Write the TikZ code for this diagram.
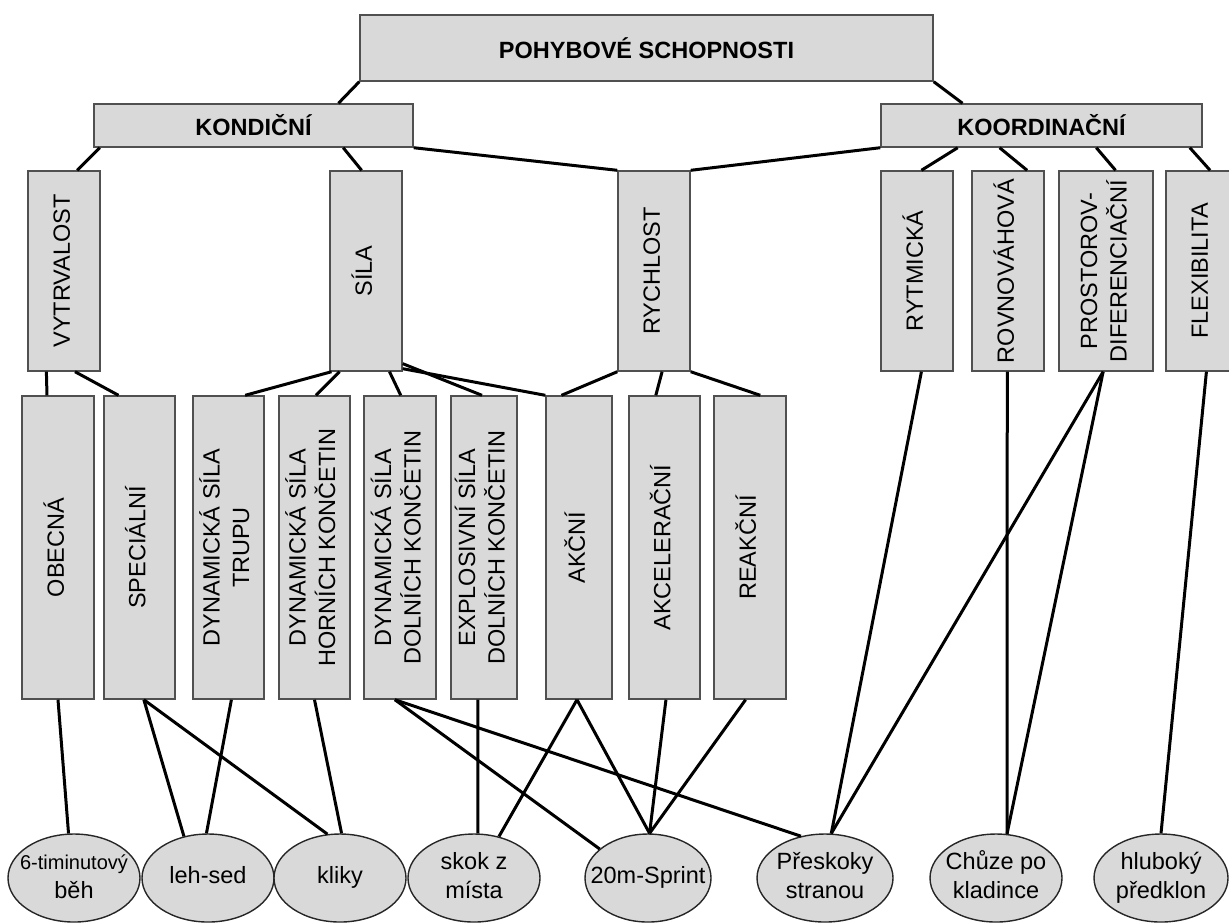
\documentclass[tikz,border=0pt]{standalone}
\usepackage{fontspec}
\setmainfont{Liberation Sans}
\usepackage{tikz}
\usetikzlibrary{calc,shapes.geometric}
\definecolor{BoxGray}{RGB}{217,217,217}
\definecolor{RimGray}{RGB}{80,80,80}
\newcommand{\diagfont}{\fontsize{11.75}{14.8}\selectfont}
\newcommand{\vtext}[1]{\rotatebox{90}{\begin{tabular}{@{}c@{}}#1\end{tabular}}}
\newcommand{\ctext}[1]{\makebox[0pt]{\begin{tabular}{@{}c@{}}#1\end{tabular}}}
\tikzset{
	hbox/.style={draw=RimGray,fill=BoxGray,line width=0.7pt,inner sep=0pt,font=\diagfont\bfseries},
	vbox/.style={draw=RimGray,fill=BoxGray,line width=0.7pt,inner sep=0pt,minimum width=36pt,font=\diagfont},
	midbox/.style={vbox,minimum height=100pt},
	lowbox/.style={vbox,minimum height=151.5pt},
	test/.style={ellipse,draw=black!85,fill=BoxGray,line width=0.7pt,inner sep=0pt,
		minimum width=66pt,minimum height=44pt,font=\diagfont},
	link/.style={draw=black,line width=1.5pt},
}

\begin{document}
\begin{tikzpicture}[x=0.5pt,y=-0.5pt]
	\clip (0,0) rectangle (1229,923);
	% upper levels
	\node[hbox,minimum width=286.5pt,minimum height=33pt] (pohyb) at (646.5,48) {POHYBOVÉ SCHOPNOSTI};
	\node[hbox,minimum width=159.5pt,minimum height=21.5pt] (kond) at (253.5,125.5) {KONDIČNÍ};
	\node[hbox,minimum width=160.5pt,minimum height=21.5pt] (koord) at (1041.5,125.5) {KOORDINAČNÍ};
	\node[midbox] (vytrv) at (64,271) {\vtext{VYTRVALOST}};
	\node[midbox] (sila) at (366,271) {\vtext{SÍLA}};
	\node[midbox] (rychl) at (654,271) {\vtext{RYCHLOST}};
	\node[midbox] (rytm) at (917,271) {\vtext{RYTMICKÁ}};
	\node[midbox] (rovn) at (1008,271) {\vtext{ROVNOVÁHOVÁ}};
	\node[midbox,minimum width=47pt] (prost) at (1106,271) {\vtext{PROSTOROV-\\DIFERENCIAČNÍ}};
	\node[midbox] (flex) at (1202,271) {\vtext{FLEXIBILITA}};
	% lower boxes
	\node[lowbox] (obec) at (58,547.5) {\vtext{OBECNÁ}};
	\node[lowbox,minimum width=35.5pt] (spec) at (139.5,547.5) {\vtext{SPECIÁLNÍ}};
	\node[lowbox,minimum width=35.5pt] (trup) at (228.5,547.5) {\vtext{DYNAMICKÁ SÍLA\\TRUPU}};
	\node[lowbox,minimum width=35.5pt] (horn) at (314.5,547.5) {\vtext{DYNAMICKÁ SÍLA\\HORNÍCH KONČETIN}};
	\node[lowbox] (doln) at (400,547.5) {\vtext{DYNAMICKÁ SÍLA\\DOLNÍCH KONČETIN}};
	\node[lowbox,minimum width=33pt] (expl) at (484,547.5) {\vtext{EXPLOSIVNÍ SÍLA\\DOLNÍCH KONČETIN}};
	\node[lowbox,minimum width=33pt] (akc) at (579,547.5) {\vtext{AKČNÍ}};
	\node[lowbox,minimum width=35.5pt] (akcel) at (664.5,547.5) {\vtext{AKCELERAČNÍ}};
	\node[lowbox] (reakc) at (750,547.5) {\vtext{REAKČNÍ}};
	% tests
	\node[test] (e6) at (74,878) {\ctext{\fontsize{10}{11.5}\selectfont 6-timinutový\\běh}};
	\node[test] (lehsed) at (208,878) {\ctext{leh-sed}};
	\node[test] (kliky) at (340,878) {\ctext{kliky}};
	\node[test] (skok) at (474,878) {\ctext{skok z\\místa}};
	\node[test,minimum width=63pt] (sprint) at (648,878) {\ctext{20m-Sprint}};
	\node[test,minimum width=68pt] (presk) at (825,878) {\ctext{Přeskoky\\stranou}};
	\node[test] (chuze) at (996,878) {\ctext{Chůze po\\kladince}};
	\node[test,minimum width=67pt] (predkl) at (1161,878) {\ctext{hluboký\\předklon}};

	% links between levels
	\draw[link] (pohyb.south west) -- ($(kond.north west)!.765!(kond.north east)$);
	\draw[link] (pohyb.south east) -- ($(koord.north west)!.255!(koord.north east)$);
	\draw[link] ($(kond.south west)!.02!(kond.south east)$) -- ($(vytrv.north west)!.68!(vytrv.north east)$);
	\draw[link] ($(kond.south west)!.78!(kond.south east)$) -- ($(sila.north west)!.44!(sila.north east)$);
	\draw[link] (kond.south east) -- (rychl.north west);
	\draw[link] (koord.south west) -- (rychl.north east);
	\draw[link] ($(koord.south west)!.24!(koord.south east)$) -- ($(rytm.north west)!.56!(rytm.north east)$);
	\draw[link] ($(koord.south west)!.37!(koord.south east)$) -- ($(rovn.north west)!.76!(rovn.north east)$);
	\draw[link] ($(koord.south west)!.67!(koord.south east)$) -- ($(prost.north west)!.6!(prost.north east)$);
	\draw[link] ($(koord.south west)!.96!(koord.south east)$) -- ($(flex.north west)!.61!(flex.north east)$);
	\draw[link] ($(vytrv.south west)!.26!(vytrv.south east)$) -- ($(obec.north west)!.35!(obec.north east)$);
	\draw[link] ($(vytrv.south west)!.65!(vytrv.south east)$) -- ($(spec.north west)!.21!(spec.north east)$);
	\draw[link] ($(sila.south west)!.03!(sila.south east)$) -- ($(trup.north west)!.73!(trup.north east)$);
	\draw[link] ($(sila.south west)!.14!(sila.south east)$) -- ($(horn.north west)!.52!(horn.north east)$);
	\draw[link] ($(sila.south west)!.82!(sila.south east)$) -- ($(doln.north west)!.51!(doln.north east)$);
	\draw[link] ($(sila.south east)!.04!(sila.north east)$) -- ($(expl.north west)!.47!(expl.north east)$);
	\draw[link] ($(sila.south east)!.015!(sila.north east)$) -- (akc.north west);
	\draw[link] (rychl.south west) -- ($(akc.north west)!.24!(akc.north east)$);
	\draw[link] ($(rychl.south west)!.61!(rychl.south east)$) -- ($(akcel.north west)!.38!(akcel.north east)$);
	\draw[link] (rychl.south east) -- ($(reakc.north west)!.64!(reakc.north east)$);

	% links to the tests
	\draw[link] (obec.south) -- (e6.97);
	\draw[link] ($(spec.south west)!.56!(spec.south east)$) -- (lehsed.120);
	\draw[link] ($(spec.south west)!.56!(spec.south east)$) -- (kliky.106);
	\draw[link] ($(trup.south west)!.54!(trup.south east)$) -- (lehsed.92);
	\draw[link] (horn.south) -- (kliky.88);
	\draw[link] ($(doln.south west)!.43!(doln.south east)$) -- (sprint.149);
	\draw[link] ($(doln.south west)!.43!(doln.south east)$) -- (presk.120);
	\draw[link] ($(expl.south west)!.41!(expl.south east)$) -- (skok.85);
	\draw[link] ($(akc.south west)!.47!(akc.south east)$) -- (skok.59);
	\draw[link] ($(akc.south west)!.47!(akc.south east)$) -- (sprint.88);
	\draw[link] ($(akcel.south west)!.52!(akcel.south east)$) -- (sprint.88);
	\draw[link] ($(reakc.south west)!.44!(reakc.south east)$) -- (sprint.88);
	\draw[link] ($(rytm.south west)!.56!(rytm.south east)$) -- (presk.82);
	\draw[link] ($(prost.south west)!.47!(prost.south east)$) -- (presk.82);
	\draw[link] ($(prost.south west)!.47!(prost.south east)$) -- (chuze.76);
	\draw[link] ($(rovn.south west)!.49!(rovn.south east)$) -- (chuze.76);
	\draw[link] ($(flex.south west)!.56!(flex.south east)$) -- (predkl.north);
\end{tikzpicture}
\end{document}
